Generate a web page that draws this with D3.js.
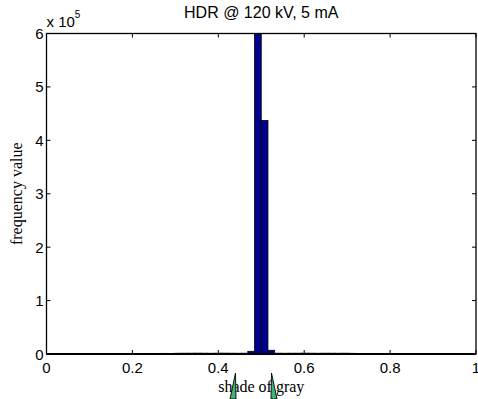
<!DOCTYPE html>
<html>
<head>
<meta charset="utf-8">
<script src="https://cdn.jsdelivr.net/npm/d3@7"></script>
<style>
  body { margin: 0; background: #fff; }
  svg { display: block; }
</style>
</head>
<body>
<svg id="chart" width="478" height="399"></svg>
<script>
// histogram of gray shades, 64 equal bins over [0, 1]
const binCount = 64;
const counts = [
  0, 0, 0, 0, 0, 0, 0, 0, 0, 0, 0, 0, 0, 0, 0, 0,
  0, 1200, 0, 1400, 1500, 1500, 1600, 1500, 1400, 1500, 1600, 1500, 1400, 1500,
  5000, 1100000, 437000, 7000,
  1500, 1400, 1500, 1500, 1600, 1500, 1400, 1500, 1500, 1400, 1500, 1300,
  0, 0, 0, 0, 0, 0, 0, 0, 0, 0, 0, 0, 0, 0, 0, 0, 0, 0
];
const xTicks = [0, 0.2, 0.4, 0.6, 0.8, 1];
const xTickLabels = ['0', '0.2', '0.4', '0.6', '0.8', '1'];
const yTicks = [0, 1e5, 2e5, 3e5, 4e5, 5e5, 6e5];
const yTickLabels = ['0', '1', '2', '3', '4', '5', '6'];
const titleText = 'HDR @ 120 kV, 5 mA';
const xLabel = 'shade of gray';
const yLabel = 'frequency value';

const margin = { left: 46.5, right: 2, top: 33.5, bottom: 45 };
const W = 478, H = 399;
const svg = d3.select('#chart');

const x = d3.scaleLinear().domain([0, 1]).range([margin.left, W - margin.right]);
const y = d3.scaleLinear().domain([0, 6e5]).range([H - margin.bottom, margin.top]);

svg.append('clipPath').attr('id', 'plot-clip')
  .append('rect')
  .attr('x', x(0)).attr('y', y(6e5))
  .attr('width', x(1) - x(0)).attr('height', y(0) - y(6e5));

// bars
const bins = counts.map((c, i) => ({ x0: i / binCount, x1: (i + 1) / binCount, c }))
  .filter(d => d.c > 0);

svg.append('g').attr('clip-path', 'url(#plot-clip)')
  .selectAll('rect')
  .data(bins)
  .join('rect')
  .attr('x', d => x(d.x0))
  .attr('y', d => y(d.c))
  .attr('width', d => x(d.x1) - x(d.x0))
  .attr('height', d => y(0) - y(d.c))
  .attr('fill', '#00008f')
  .attr('stroke', '#000')
  .attr('stroke-width', 0.8);

// axes box
const axisFont = 'Liberation Sans, Arial, Helvetica, sans-serif';
const box = svg.append('g');
box.append('rect')
  .attr('x', x(0)).attr('y', y(6e5))
  .attr('width', x(1) - x(0)).attr('height', y(0) - y(6e5))
  .attr('fill', 'none').attr('stroke', '#000').attr('stroke-width', 1.3);
box.append('line')
  .attr('x1', x(0)).attr('x2', x(1)).attr('y1', y(0)).attr('y2', y(0))
  .attr('stroke', '#000').attr('stroke-width', 2);

// ticks inward, mirrored on top/right
const tickLen = 4;
xTicks.forEach((t, i) => {
  box.append('line').attr('x1', x(t)).attr('x2', x(t))
    .attr('y1', y(0)).attr('y2', y(0) - tickLen).attr('stroke', '#000');
  box.append('line').attr('x1', x(t)).attr('x2', x(t))
    .attr('y1', y(6e5)).attr('y2', y(6e5) + tickLen).attr('stroke', '#000');
  svg.append('text')
    .attr('x', x(t)).attr('y', y(0) + 19)
    .attr('text-anchor', 'middle')
    .attr('font-family', axisFont).attr('font-size', 15)
    .text(xTickLabels[i]);
});
yTicks.forEach((t, i) => {
  box.append('line').attr('x1', x(0)).attr('x2', x(0) + tickLen)
    .attr('y1', y(t)).attr('y2', y(t)).attr('stroke', '#000');
  box.append('line').attr('x1', x(1)).attr('x2', x(1) - tickLen)
    .attr('y1', y(t)).attr('y2', y(t)).attr('stroke', '#000');
  svg.append('text')
    .attr('x', x(0) - 3).attr('y', y(t) + 5.5)
    .attr('text-anchor', 'end')
    .attr('font-family', axisFont).attr('font-size', 15)
    .text(yTickLabels[i]);
});

// exponent label
const expo = svg.append('text')
  .attr('x', x(0)).attr('y', 27)
  .attr('font-family', axisFont).attr('font-size', 15);
expo.append('tspan').text('x 10');
expo.append('tspan').attr('font-size', 10).attr('dy', -9).text('5');

// title
svg.append('text')
  .attr('x', (x(0) + x(1)) / 2).attr('y', 18)
  .attr('text-anchor', 'middle')
  .attr('font-family', axisFont).attr('font-size', 16)
  .text(titleText);

// axis labels
svg.append('text')
  .attr('x', (x(0) + x(1)) / 2).attr('y', 392)
  .attr('text-anchor', 'middle')
  .attr('font-family', 'Liberation Serif, Times New Roman, serif').attr('font-size', 16)
  .text(xLabel);
svg.append('text')
  .attr('transform', `translate(22, ${(y(0) + y(6e5)) / 2}) rotate(-90)`)
  .attr('text-anchor', 'middle')
  .attr('font-family', 'Liberation Serif, Times New Roman, serif').attr('font-size', 16)
  .text(yLabel);

// green arrowheads poking up below the axis
const spikes = [
  [[235.5, 373], [230, 399], [236, 399]],
  [[271.5, 373], [271, 399], [277, 399]]
];
svg.append('g').selectAll('path')
  .data(spikes)
  .join('path')
  .attr('d', d => d3.line()(d) + 'Z')
  .attr('fill', '#3cb478')
  .attr('stroke', '#000')
  .attr('stroke-width', 0.9);
</script>
</body>
</html>
